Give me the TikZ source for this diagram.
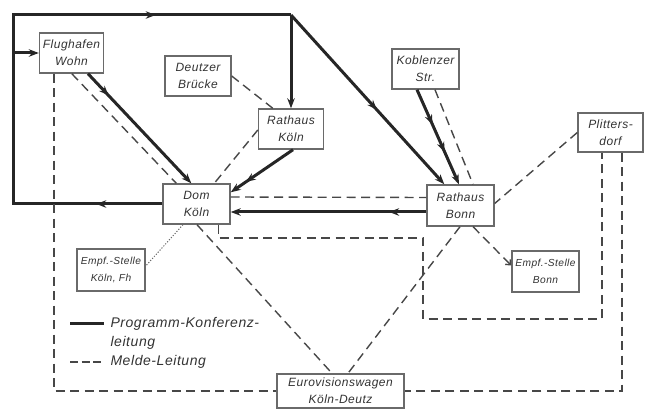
\documentclass[tikz,border=0pt]{standalone}
\usepackage{fontspec}
\setmainfont{Liberation Sans}[LetterSpace=4]
\usetikzlibrary{calc,arrows.meta,decorations.markings}

\definecolor{linegray}{HTML}{262626}
\definecolor{boxgray}{HTML}{6A6A6A}
\definecolor{txtgray}{HTML}{333333}

\begin{document}
\begin{tikzpicture}[x=1pt, y=-1pt, >={Stealth[length=10pt,width=7.5pt]},
    station/.style={draw=boxgray, line width=1.4pt, fill=white, inner sep=0.5pt,
        align=center, text=txtgray, font=\itshape\fontsize{12}{17}\selectfont},
    empf/.style={font=\itshape\fontsize{10.2}{17}\selectfont},
    prog/.style={draw=linegray, line width=3pt},
    melde/.style={draw=linegray!85, line width=1.4pt, dash pattern=on 9pt off 5.5pt},
    dotline/.style={draw=boxgray, line width=1pt, dash pattern=on 1.2pt off 1.6pt},
    legend/.style={text=txtgray, align=left, font=\itshape\fontsize{14}{19}\selectfont},
    midarrow/.style={postaction={decorate, decoration={markings,
        mark=at position #1 with {\arrow{Stealth[length=10pt,width=7.5pt]}}}}}]
    \useasboundingbox (0,0) rectangle (645,419);

    % stations
    \node[station, minimum width=64pt, minimum height=40pt] (flug) at (71.5,53) {Flughafen\\Wohn};
    \node[station, minimum width=66pt, minimum height=40pt] (deutz) at (198,76) {Deutzer\\Brücke};
    \node[station, minimum width=65pt, minimum height=40pt] (rkoeln) at (291,129) {Rathaus\\Köln};
    \node[station, minimum width=67pt, minimum height=40pt] (dom) at (196.5,204) {Dom\\Köln};
    \node[station, minimum width=67pt, minimum height=40pt] (kobl) at (425.5,69) {Koblenzer\\Str.};
    \node[station, minimum width=65pt, minimum height=39pt] (plitt) at (610.5,132.5) {Plitters-\\dorf};
    \node[station, minimum width=67pt, minimum height=41pt] (rbonn) at (460.5,205.5) {Rathaus\\Bonn};
    \node[station, empf, minimum width=68pt, minimum height=42pt] (empfk) at (111,270) {Empf.-Stelle\\Köln, Fh};
    \node[station, empf, minimum width=67pt, minimum height=41pt] (empfb) at (545.5,271.5) {Empf.-Stelle\\Bonn};
    \node[station, minimum width=127pt, minimum height=34pt] (euro) at (340.5,391) {Eurovisionswagen\\Köln-Deutz};

    % Programm-Konferenzleitung
    \coordinate (lb) at (13,204);
    \coordinate (lt) at (13,15);
    \coordinate (tr) at (291,15);
    \coordinate (lf) at (13,53);
    \draw[prog, line join=miter, midarrow=66pt, midarrow=481pt] (dom.west) -- (lb) -- (lt) -- (tr);
    \draw[prog, ->] (lf) -- (flug.west);
    \draw[prog, ->] (tr) -- (rkoeln.north);
    \draw[prog, midarrow=0.56, ->] (tr) -- ($(rbonn.north west)+(18,0)$);
    \draw[prog, midarrow=0.2, ->] ($(flug.south)+(16.5,0)$) -- ($(dom.north west)+(29,0)$);
    \draw[prog, midarrow=0.76, ->] ($(rkoeln.south)+(2,0)$) -- ($(dom.north east)+(0,9)$);
    \draw[prog, midarrow=0.37, midarrow=0.66, ->] ($(kobl.south)+(-8.5,0)$) -- ($(rbonn.north)+(-1.5,0)$);
    \draw[prog, midarrow=0.19, ->] ($(rbonn.west)+(0,6.5)$) -- ($(dom.east)+(0,8)$);

    % Melde-Leitung
    \coordinate (m1) at (423,238);
    \coordinate (m2) at (423,319);
    \draw[melde] ($(flug.south west)+(15,0)$) |- (euro.west);
    \draw[melde] ($(flug.south west)+(33,0)$) -- ($(dom.north west)+(14,0)$);
    \draw[melde] (deutz.east) -- ($(rkoeln.north west)+(15,0)$);
    \draw[melde] ($(rkoeln.west)+(0,1)$) -- ($(dom.north west)+(52,0)$);
    \draw[melde] ($(dom.east)+(0,-7)$) -- ($(rbonn.west)+(0,-8)$);
    \draw[melde] ($(dom.south west)+(56,0)$) |- (m1) -- (m2) -| ($(plitt.south)+(-8.5,0)$);
    \draw[melde] ($(plitt.south)+(11.5,0)$) |- (euro.east);
    \draw[melde] ($(kobl.south)+(9.5,0)$) -- ($(rbonn.north)+(12.5,0)$);
    \draw[melde] (plitt.west) -- ($(rbonn.east)+(0,-2)$);
    \draw[melde, -{Straight Barb[length=4pt,width=7pt]}] ($(rbonn.south)+(12.5,0)$) -- ($(empfb.west)+(0,-6)$);
    \draw[melde] ($(rbonn.south)+(-0.5,0)$) -- ($(euro.north)+(7.5,0)$);
    \draw[melde] ($(dom.south)+(0.5,0)$) -- ($(euro.north)+(-8.5,0)$);
    \draw[dotline] ($(dom.south)+(-13.5,0)$) -- ($(empfk.east)+(0,-4)$);

    % legend
    \coordinate (lp1) at (70,324);
    \coordinate (lp2) at (104,324);
    \coordinate (lm1) at (70,362);
    \coordinate (lm2) at (104,362);
    \draw[prog] (lp1) -- (lp2);
    \draw[melde, dash pattern=on 8pt off 3.5pt] (lm1) -- (lm2);
    \node[legend, anchor=west] (lprog) at (107,333.5) {Programm-Konferenz-\\leitung};
    \node[legend, anchor=west] (lmelde) at (107,362) {Melde-Leitung};
\end{tikzpicture}
\end{document}
